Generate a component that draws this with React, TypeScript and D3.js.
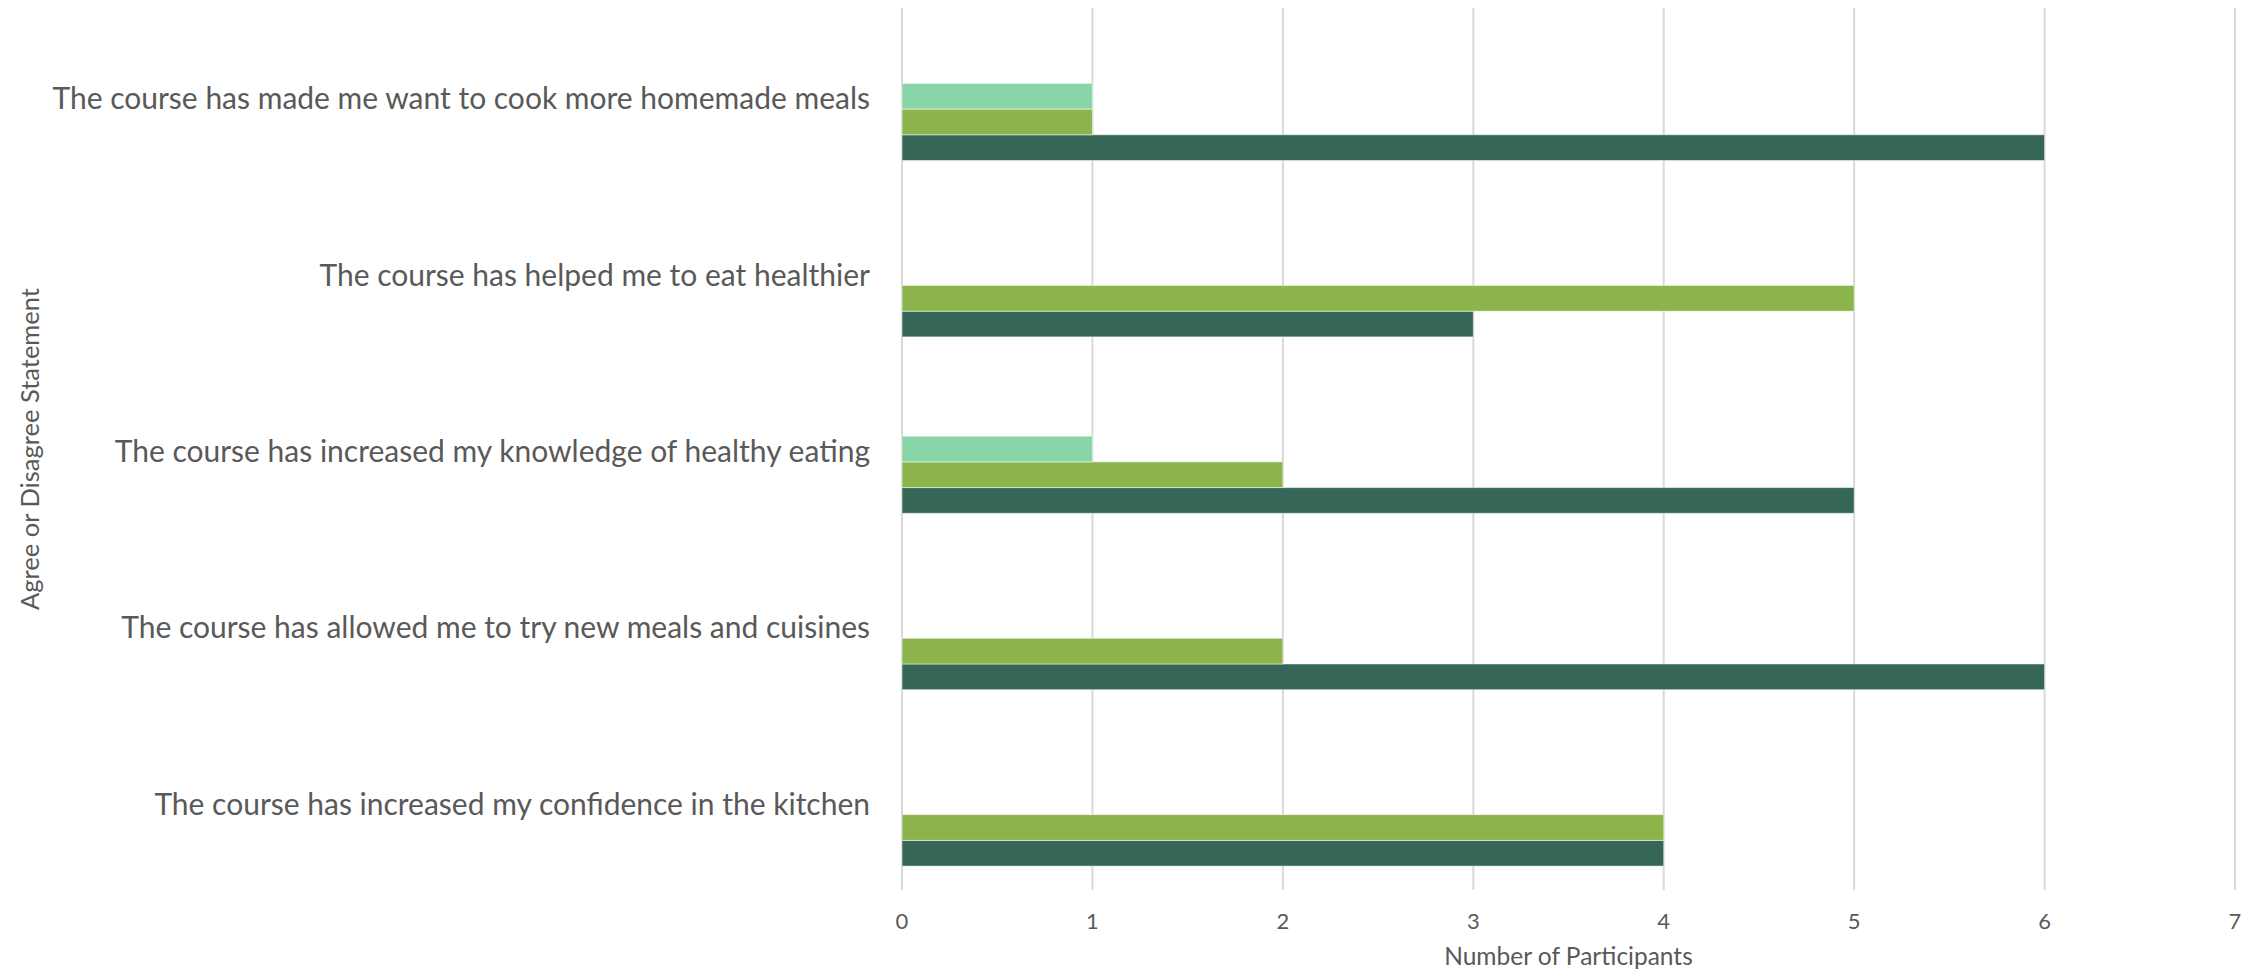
import React from "react";
import * as d3 from "d3";

const categories = [
  "The course has made me want to cook more homemade meals",
  "The course has helped me to eat healthier",
  "The course has increased my knowledge of healthy eating",
  "The course has allowed me to try new meals and cuisines",
  "The course has increased my confidence in the kitchen",
];

const seriesNames = ["Strongly Agree", "Agree", "Neutral", "Disagree", "Strongly Disagree"];
const stronglyAgree = [6, 3, 5, 6, 4];
const agree = [1, 5, 2, 2, 4];
const neutral = [1, 0, 1, 0, 0];
const disagree = [0, 0, 0, 0, 0];
const stronglyDisagree = [0, 0, 0, 0, 0];
const seriesValues = [stronglyAgree, agree, neutral, disagree, stronglyDisagree];
const seriesColors = ["#356657", "#8BB44B", "#88D5A8", "#5B9BD5", "#A5A5A5"];
const xTicks = [0, 1, 2, 3, 4, 5, 6, 7];

const W = 2255;
const H = 980;
const plot = { left: 902, right: 2235, top: 8, bottom: 890 };
const font = "'Gill Sans', 'Gill Sans MT', Lato, sans-serif";
const textColor = "#595959";

export default function App() {
  const x = d3.scaleLinear().domain([0, 7]).range([plot.left, plot.right]);
  const y = d3.scaleBand<string>().domain(categories).range([plot.top, plot.bottom]).paddingInner(0).paddingOuter(0);
  const bw = y.bandwidth();
  const groupH = bw * 0.729;
  const inner = d3
    .scaleBand<string>()
    .domain(seriesNames)
    .range([bw / 2 + groupH / 2, bw / 2 - groupH / 2]);

  return (
    <svg width={W} height={H} style={{ position: "absolute", left: 0, top: 0, background: "#fff" }}>
      {xTicks.map((t) => (
        <line key={"g" + t} x1={x(t)} x2={x(t)} y1={plot.top} y2={plot.bottom} stroke="#d9d9d9" strokeWidth={2} />
      ))}
      {seriesNames.map((s, si) =>
        categories.map((c, ci) => {
          const v = seriesValues[si][ci];
          if (!v) return null;
          const yy = (y(c) as number) + (inner(s) as number) - inner.bandwidth();
          return (
            <rect
              key={s + ci}
              x={x(0)}
              y={yy + inner.bandwidth()}
              width={x(v) - x(0)}
              height={inner.bandwidth()}
              fill={seriesColors[si]}
              stroke="#ffffff"
              strokeOpacity={0.5}
              strokeWidth={1}
            />
          );
        })
      )}
      {xTicks.map((t) => (
        <text key={"t" + t} x={x(t)} y={920} textAnchor="middle" dominantBaseline="central" fontFamily={font} fontSize={22} fill={textColor}>
          {t}
        </text>
      ))}
      {categories.map((c) => (
        <text key={c} x={870} y={(y(c) as number) + bw / 2 + 1} textAnchor="end" dominantBaseline="central" fontFamily={font} fontSize={30} fill={textColor}>
          {c}
        </text>
      ))}
      <text x={(plot.left + plot.right) / 2} y={955} textAnchor="middle" dominantBaseline="central" fontFamily={font} fontSize={24.5} fill={textColor}>
        Number of Participants
      </text>
      <text
        transform={`translate(29, ${(plot.top + plot.bottom) / 2}) rotate(-90)`}
        textAnchor="middle"
        dominantBaseline="central"
        fontFamily={font}
        fontSize={25.5}
        fill={textColor}
      >
        Agree or Disagree Statement
      </text>
    </svg>
  );
}
